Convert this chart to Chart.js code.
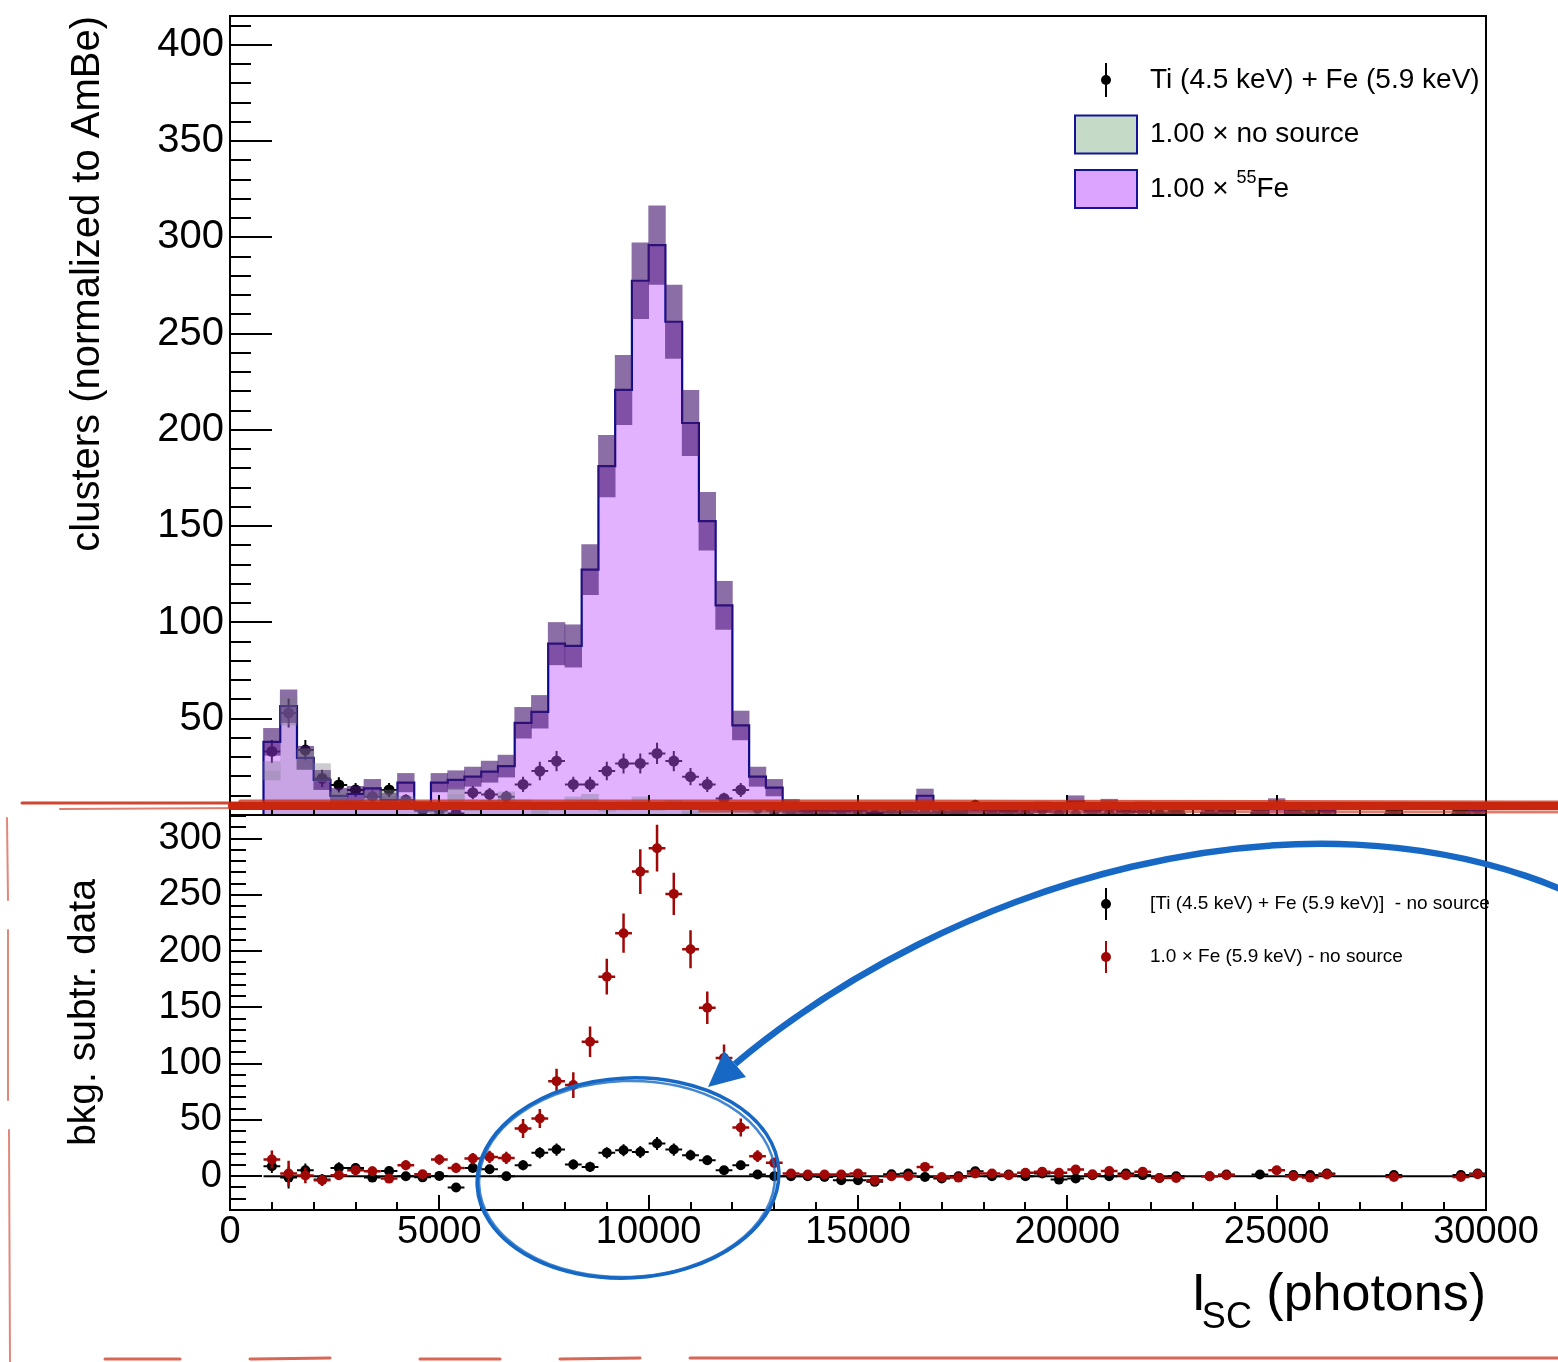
<!DOCTYPE html>
<html><head><meta charset="utf-8">
<script src="https://cdn.jsdelivr.net/npm/chart.js@4.4.1/dist/chart.umd.min.js"></script>
<style>
html,body{margin:0;padding:0;background:#fff;}
#wrap{position:relative;width:1558px;height:1362px;overflow:hidden;background:#fff;}
#wrap canvas{position:absolute;left:0;top:0;}
#ann{position:absolute;left:0;top:0;pointer-events:none;}
</style></head>
<body>
<div id="wrap">
<canvas id="bot" width="1558" height="1362"></canvas>
<canvas id="top" width="1558" height="1362"></canvas>
<svg id="ann" width="1558" height="1362" viewBox="0 0 1558 1362">
  <!-- hand drawn red separator -->
  <g stroke="rgb(200,38,14)" fill="none" stroke-linecap="round">
    <path d="M232 806 L1558 806" stroke-width="8"/>
    <path d="M240 801 L900 801 L1558 802" stroke-width="3" opacity="0.75"/>
    <path d="M700 811 L1558 812" stroke-width="3" opacity="0.6"/>
    <path d="M22 803 L240 803" stroke-width="3" opacity="0.85"/>
    <path d="M60 809 L250 808" stroke-width="2" opacity="0.6"/>
    <path d="M7 818 L8 900 M8 930 L8 1100 M9 1130 L10 1362" stroke-width="2" opacity="0.55"/>
    <path d="M105 1359 L180 1359 M250 1359 L330 1358 M420 1359 L500 1359 M560 1359 L640 1358 M690 1358 L1558 1358" stroke-width="3" opacity="0.7"/>
  </g>
  <!-- blue ellipse -->
  <g fill="none" stroke="rgb(22,104,196)">
    <ellipse cx="628" cy="1178" rx="151" ry="100" transform="rotate(-3 628 1178)" stroke-width="3.5"/>
    <ellipse cx="627" cy="1179" rx="148" ry="98" transform="rotate(-2 628 1178)" stroke-width="2.5" opacity="0.8"/>
  </g>
  <!-- blue arrow -->
  <path d="M1570 893 C1300 775 949 884 735 1064" fill="none" stroke="rgb(22,104,196)" stroke-width="6.5"/>
  <polygon points="708,1087 724,1051 746,1077" fill="rgb(22,104,196)"/>
</svg>
</div>
<script>
// ---------------- data ----------------
const BIN_START = 800;      // first bin low edge (photons)
const BIN_WIDTH = 400;      // bin width (photons)

// 1.00 x 55Fe histogram (top panel)
const fe55 = [38,56.5,29.7,18.2,9.9,10.9,13.8,7.8,16.8,4.5,16.8,18.2,19.9,22.5,25.4,47.9,53.6,89,87.8,127.4,
  181.2,220.8,277.5,296,256.2,203.6,152.6,108.9,46.5,19.9,14.2,4.3,2,2.2,2,2.5,1,1.5,1.5,10,
  1.5,1,3,2.5,1.5,3,4,3.5,7,2.5,5.2,1.5,4,0.5,0.5,0,1,1.5,0,1,5.5,1,0.5,2,0,0,0,0.5,0,0,0,0.5,2.5];
const fe55Err = [7,8.5,6,5,4,4,4.7,3.5,4.8,2.5,4.8,4.8,5,5.5,5.7,8,8.5,11,11,13,
  16,18,19.7,20.4,19,17,15,12.5,7.5,5,4.3,3.8,2,2,2,2.2,1.5,1.7,1.7,3.5,
  1.7,1.5,2.4,2.2,1.7,2.4,2.8,2.6,3,2.2,3,1.7,2.8,1,1,0,1.5,1.7,0,1.5,3,1.5,1,2,0,0,0,1,0,0,0,1,2.2];

// 1.00 x no source histogram (top panel)
const noSource = [23,54,29,22,9,5.6,9.4,9.9,7,3,2,10.8,4.2,5.3,9,5.5,2.3,4.5,6.8,8,
  4,4.8,6.8,4.5,5.3,2,3,3,3.2,2,2.3,2,0.5,0.7,0.5,0.5,4.6,1.5,1.5,1.7,
  2.1,2.2,0.6,0.5,0.6,0.5,0.5,0.5,1.1,0.7,0.5,0.6,0.5,2,2,0,1,0.6,0,1,0.2,1,1.7,0.5,0,0,0,1.1,0,0,0,1.1,0.7];
const noSourceErr = [4.8,7.3,5.4,4.7,3,2.4,3,3.1,2.6,1.7,1.4,3.3,2,2.3,3,2.3,1.5,2.1,2.6,2.8,
  2,2.2,2.6,2.1,2.3,1.4,1.7,1.7,1.8,1.4,1.5,1.4,0.7,0.8,0.7,0.7,2.1,1.2,1.2,1.3,
  1.4,1.5,0.8,0.7,0.8,0.7,0.7,0.7,1,0.8,0.7,0.8,0.7,1.4,1.4,0,1,0.8,0,1,0.4,1,1.3,0.7,0,0,0,1,0,0,0,1,0.8];

// Ti (4.5 keV) + Fe (5.9 keV) data (top panel)
const tiFe = [33,53,33.7,19,15.6,13,9.5,13,7.8,2.5,2.3,0.8,11.6,10.7,9.5,15.9,22.8,28,15.9,15.9,
  22.8,26.8,26.8,32,28,19.9,15.9,8.6,13,3.5,2.3,2,0.5,0.3,0,0,0,3.3,3.9,1.1,
  0.1,2.2,5,0.5,2.1,0.5,2.9,0,0,1.6,0.5,3,1.5,0.5,2,null,1,2.1,null,2.5,null,2,2.7,2.9,null,null,null,2.1,null,null,null,2.1,3.1];
const tiFeErr = [6,7.5,5.3,4.5,4,3.6,3.2,3.6,2.8,1.6,1.5,0.9,3.4,3.3,3.1,4,4.8,5.3,4,4,
  4.8,5.2,5.2,5.5,5.3,4.5,4,2.9,3.6,1.9,1.5,1.4,1,1,1,1,1,1.8,2,1.1,
  1,1.5,2.2,1,1.5,1,1.7,1,1,1.3,1,1.7,1.2,1,1.4,0,1,1.5,0,1.6,0,1.4,1.6,1.7,0,0,0,1.4,0,0,0,1.4,1.8];

// bottom panel: background-subtracted data
const resTiFe = [8.9,-1.2,5.3,-3,7.4,7.4,-1.2,4.7,0,-1,0.3,-10,7.4,6.2,0,9.8,20.8,23.7,10.4,8.3,
  20.8,23.1,21.6,29.1,23.7,18.7,14.2,5.3,9.8,1.5,0,0,0,-0.6,-3.6,-3.6,-5,1.8,2.4,-0.6,
  -2,0,4.4,0,1.5,0,2.4,-3,-2,0.9,0,2.4,1,-1.5,0,null,0,1.5,null,1.5,null,1,1,2.4,null,null,null,1,null,null,null,1,2.4];
const resTiFeErr = [6,9.6,6,5,5,4,4,4.5,3.5,2.5,2.5,3,4,4,4,4.5,5,5.5,4.5,4.5,
  5,5.3,5.3,5.7,5.4,4.8,4.3,3.3,4,2.3,2.2,1.8,1.8,1.8,1.8,1.8,1.8,1.8,1.8,1.8,
  1.8,1.8,1.8,1.8,1.8,1.8,1.8,1.8,1.8,1.8,1.8,1.8,1.8,1.8,1.8,0,1.8,1.8,0,1.8,0,1.8,1.8,1.8,0,0,0,1.8,0,0,0,1.8,1.8];
const resFe = [14.8,2.4,0.7,-3.6,0.9,5.3,4.4,-2.1,9.8,1.8,14.8,7.4,15.7,17.2,16.3,42.4,51.3,84.5,81,119.5,
  177.3,216,270.7,291.5,250.9,201.7,149.7,105,43.3,17.8,11.9,2.4,1.5,1.5,1.5,2.4,-3.6,0,0,8.3,
  -0.6,-1.2,2.4,2.4,0.9,3,3.9,3,5.9,1.8,4.7,0.9,3.9,-1.5,-1.5,null,0,0.9,null,null,5.3,0,-1.2,1.5,null,null,null,-0.6,null,null,null,-0.6,1.8];
const resFeErr = [8,11.4,7,5,4,4,4.2,4,4.5,2.5,4.5,4.5,5,5.5,5.5,8.5,8.5,11,11.5,13.6,
  15.9,17.5,19.9,20.8,18.8,16.8,14.4,12,8,5.2,4.5,2.5,2,2,2,2,2.5,1.8,1.8,3.5,
  1.8,1.8,2,2,1.8,2,2.2,2,3,1.8,3,1.8,2.8,1.8,1.8,0,1.8,1.8,0,0,3.2,1.8,1.8,1.8,0,0,0,1.8,0,0,0,1.8,1.8];

// tick labels
const xTicks = [0,5000,10000,15000,20000,25000,30000];
const topYTicks = [50,100,150,200,250,300,350,400];
const botYTicks = [0,50,100,150,200,250,300];

// texts
const topYTitle = 'clusters (normalized to AmBe)';
const botYTitle = 'bkg. subtr. data';
const topLegend = [
  {kind:'marker', color:'#000', parts:[['Ti (4.5 keV) + Fe (5.9 keV)', false]]},
  {kind:'box', fill:'rgb(198,218,200)', parts:[['1.00 \u00d7 no source', false]]},
  {kind:'box', fill:'rgb(221,164,255)', parts:[['1.00 \u00d7 ', false], ['55', true], ['Fe', false]]}
];
const botLegend = [
  {kind:'marker', color:'#000', parts:[['[Ti (4.5 keV) + Fe (5.9 keV)]  - no source', false]]},
  {kind:'marker', color:'rgb(160,8,8)', parts:[['1.0 \u00d7 Fe (5.9 keV) - no source', false]]}
];

// ---------------- helpers ----------------
const FONT = '"Liberation Sans", Arial, Helvetica, sans-serif';
Chart.defaults.font.family = FONT;
Chart.defaults.color = '#000';
const nBins = fe55.length;
const centers = fe55.map((_, i) => BIN_START + BIN_WIDTH * (i + 0.5));
const lastEdge = BIN_START + BIN_WIDTH * nBins;

function stepData(vals) {
  const d = [{x: BIN_START, y: 0}];
  vals.forEach((v, i) => d.push({x: BIN_START + BIN_WIDTH * i, y: v}));
  d.push({x: lastEdge, y: vals[vals.length - 1]});
  d.push({x: lastEdge, y: 0});
  return d;
}
function bandData(vals, errs) {
  const d = [];
  vals.forEach((v, i) => { if (errs[i] > 0) d.push({x: centers[i], y: [v - errs[i], v + errs[i]]}); });
  return d;
}
function pointData(vals, errs) {
  const d = [];
  vals.forEach((v, i) => { if (v !== null) d.push({x: centers[i], y: v, e: errs[i]}); });
  return d;
}
const plainLabel = (v) => String(v);

const errorBarPlugin = {
  id: 'errbars',
  beforeDatasetDraw(chart, args) {
    const ds = chart.data.datasets[args.index];
    if (!ds.errorBars) return;
    const xs = chart.scales.x, ys = chart.scales.y, ctx = chart.ctx, a = chart.chartArea;
    ctx.save();
    ctx.beginPath(); ctx.rect(a.left, a.top, a.right - a.left, a.bottom - a.top); ctx.clip();
    ctx.strokeStyle = ds.errorBars.color; ctx.lineWidth = ds.errorBars.width;
    ctx.beginPath();
    ds.data.forEach(p => {
      const px = xs.getPixelForValue(p.x), py = ys.getPixelForValue(p.y);
      ctx.moveTo(xs.getPixelForValue(p.x - BIN_WIDTH / 2), py);
      ctx.lineTo(xs.getPixelForValue(p.x + BIN_WIDTH / 2), py);
      if (p.e > 0) {
        ctx.moveTo(px, ys.getPixelForValue(p.y - p.e));
        ctx.lineTo(px, ys.getPixelForValue(p.y + p.e));
      }
    });
    ctx.stroke();
    ctx.restore();
  }
};

const rootAxesPlugin = {
  id: 'rootAxes',
  afterDatasetsDraw(chart, args, o) {
    const ctx = chart.ctx, a = chart.chartArea, xs = chart.scales.x, ys = chart.scales.y;
    ctx.save();
    ctx.strokeStyle = '#000'; ctx.lineWidth = 2;
    ctx.beginPath();
    for (let v = Math.ceil(ys.min / o.yMinor) * o.yMinor; v <= ys.max + 1e-9; v += o.yMinor) {
      const py = Math.round(ys.getPixelForValue(v));
      const major = Math.abs(v % o.yMajor) < 1e-6;
      ctx.moveTo(a.left, py); ctx.lineTo(a.left + (major ? o.yMajLen : o.yMinLen), py);
    }
    for (let v = Math.ceil(xs.min / o.xMinor) * o.xMinor; v <= xs.max + 1e-9; v += o.xMinor) {
      const px = Math.round(xs.getPixelForValue(v));
      const major = Math.abs(v % o.xMajor) < 1e-6;
      ctx.moveTo(px, a.bottom); ctx.lineTo(px, a.bottom - (major ? o.xMajLen : o.xMinLen));
    }
    ctx.stroke();
    ctx.strokeRect(a.left, a.top, a.right - a.left, a.bottom - a.top);
    ctx.restore();
  }
};

const legendPlugin = {
  id: 'rootLegend',
  afterDraw(chart, args, o) {
    if (!o.items) return;
    const ctx = chart.ctx;
    ctx.save();
    o.items.forEach((it, i) => {
      const y = o.y0 + i * o.dy;
      if (it.kind === 'marker') {
        ctx.strokeStyle = it.color; ctx.fillStyle = it.color; ctx.lineWidth = 2;
        ctx.beginPath(); ctx.moveTo(o.markX, y - o.barH); ctx.lineTo(o.markX, y + o.barH); ctx.stroke();
        ctx.beginPath(); ctx.arc(o.markX, y, o.r, 0, Math.PI * 2); ctx.fill();
      } else {
        ctx.fillStyle = it.fill; ctx.fillRect(o.boxX, y - o.boxH / 2, o.boxW, o.boxH);
        ctx.strokeStyle = 'rgb(20,20,150)'; ctx.lineWidth = 2;
        ctx.strokeRect(o.boxX, y - o.boxH / 2, o.boxW, o.boxH);
      }
      let x = o.textX;
      ctx.fillStyle = '#000'; ctx.textBaseline = 'middle'; ctx.textAlign = 'left';
      it.parts.forEach(([t, sup]) => {
        if (sup) {
          ctx.font = Math.round(o.size * 0.64) + 'px ' + FONT;
          ctx.fillText(t, x, y - o.size * 0.38);
        } else {
          ctx.font = o.size + 'px ' + FONT;
          ctx.fillText(t, x, y);
        }
        x += ctx.measureText(t).width;
      });
    });
    ctx.restore();
  }
};

const xTitlePlugin = {
  id: 'xTitle',
  afterDraw(chart, args, o) {
    if (!o.show) return;
    const ctx = chart.ctx, a = chart.chartArea;
    ctx.save();
    ctx.fillStyle = '#000'; ctx.textBaseline = 'alphabetic'; ctx.textAlign = 'left';
    ctx.font = '52px ' + FONT; const w1 = ctx.measureText(' (photons)').width;
    ctx.font = '36px ' + FONT; const w2 = ctx.measureText('SC').width;
    ctx.font = '52px ' + FONT; const w3 = ctx.measureText('I').width;
    const xe = a.right;
    ctx.fillText(' (photons)', xe - w1, o.baseline);
    ctx.fillText('I', xe - w1 - w2 - w3 + 4, o.baseline);
    ctx.font = '36px ' + FONT; ctx.fillText('SC', xe - w1 - w2, o.baseline + 18);
    ctx.restore();
  }
};

function fixY(width) {
  return (s) => { s.width = width; s.paddingTop = 0; s.paddingBottom = 0; };
}
function fixX(height) {
  return (s) => { s.height = height; s.paddingLeft = 0; s.paddingRight = 0; };
}
function setTicks(list) {
  return (s) => { s.ticks = list.map(v => ({value: v})); };
}

// ---------------- top chart ----------------
new Chart(document.getElementById('top'), {
  type: 'scatter',
  data: {
    datasets: [
      {type: 'line', label: 'noSource', data: stepData(noSource), stepped: true, showLine: true,
        fill: 'origin', backgroundColor: 'rgb(210,229,207)', borderColor: 'rgba(0,0,0,0)', borderWidth: 0,
        pointRadius: 0, order: 6},
      {type: 'scatter', label: 'tiFe', data: pointData(tiFe, tiFeErr), pointRadius: 5.5, pointHoverRadius: 5.5,
        backgroundColor: '#000', borderWidth: 0, order: 5, errorBars: {color: '#000', width: 2}},
      {type: 'line', label: 'fe55', data: stepData(fe55), stepped: true, showLine: true,
        fill: 'origin', backgroundColor: 'rgba(191,84,255,0.45)', borderColor: 'rgb(12,10,140)', borderWidth: 2.2,
        pointRadius: 0, order: 4},
      {type: 'bar', label: 'fe55Err', data: bandData(fe55, fe55Err), backgroundColor: 'rgba(67,21,110,0.62)',
        grouped: false, barPercentage: 1, categoryPercentage: 1, borderWidth: 0, order: 3},
      {type: 'bar', label: 'noSourceErr', data: bandData(noSource, noSourceErr), backgroundColor: 'rgba(125,125,140,0.4)',
        grouped: false, barPercentage: 1, categoryPercentage: 1, borderWidth: 0, order: 2}
    ]
  },
  options: {
    responsive: false, animation: false, events: [],
    layout: {padding: {left: 0, right: 72, top: 16, bottom: 547}},
    scales: {
      x: {type: 'linear', min: 0, max: 30000, offset: false, grid: {display: false, drawTicks: false, offset: false},
        border: {display: false}, ticks: {display: false}, afterFit: fixX(0)},
      y: {type: 'linear', min: 0, max: 415, grid: {display: false, drawTicks: false}, border: {display: false},
        afterBuildTicks: setTicks(topYTicks), afterFit: fixY(230),
        ticks: {font: {size: 40}, padding: 6, color: '#000', callback: plainLabel},
        title: {display: true, text: topYTitle, align: 'end', font: {size: 40}, color: '#000', padding: {top: 64, bottom: 0}}}
    },
    plugins: {
      legend: {display: false}, tooltip: {enabled: false},
      rootAxes: {yMinor: 10, yMajor: 50, yMajLen: 42, yMinLen: 21, xMinor: 1000, xMajor: 5000, xMajLen: 20, xMinLen: 10},
      rootLegend: {items: topLegend, y0: 80, dy: 54.5, markX: 1106, r: 5, barH: 17, boxX: 1075, boxW: 62, boxH: 38, textX: 1150, size: 28},
      xTitle: {show: false}
    }
  },
  plugins: [errorBarPlugin, rootAxesPlugin, legendPlugin, xTitlePlugin]
});

// ---------------- bottom chart ----------------
new Chart(document.getElementById('bot'), {
  type: 'scatter',
  data: {
    datasets: [
      {type: 'line', label: 'zero', data: [{x: BIN_START, y: 0}, {x: lastEdge, y: 0}], showLine: true,
        borderColor: '#000', borderWidth: 2, pointRadius: 0, fill: false, order: 3},
      {type: 'scatter', label: 'resTiFe', data: pointData(resTiFe, resTiFeErr), pointRadius: 5, pointHoverRadius: 5,
        backgroundColor: '#000', borderWidth: 0, order: 2, errorBars: {color: '#000', width: 2}},
      {type: 'scatter', label: 'resFe', data: pointData(resFe, resFeErr), pointRadius: 5, pointHoverRadius: 5,
        backgroundColor: 'rgb(160,8,8)', borderWidth: 0, order: 1, errorBars: {color: 'rgb(160,8,8)', width: 2.5}}
    ]
  },
  options: {
    responsive: false, animation: false, events: [],
    layout: {padding: {left: 0, right: 72, top: 815, bottom: 0}},
    scales: {
      x: {type: 'linear', min: 0, max: 30000, offset: false, grid: {display: false, drawTicks: false, offset: false},
        border: {display: false}, afterBuildTicks: setTicks(xTicks), afterFit: fixX(152),
        ticks: {font: {size: 38, lineHeight: 1}, padding: 4, maxRotation: 0, autoSkip: false, color: '#000', callback: plainLabel}},
      y: {type: 'linear', min: -30, max: 321, grid: {display: false, drawTicks: false}, border: {display: false},
        afterBuildTicks: setTicks(botYTicks), afterFit: fixY(230),
        ticks: {font: {size: 38}, padding: 8, color: '#000', callback: plainLabel},
        title: {display: true, text: botYTitle, align: 'center', font: {size: 39}, color: '#000', padding: {top: 61, bottom: 0}}}
    },
    plugins: {
      legend: {display: false}, tooltip: {enabled: false},
      rootAxes: {yMinor: 10, yMajor: 50, yMajLen: 32, yMinLen: 16, xMinor: 1000, xMajor: 5000, xMajLen: 15, xMinLen: 8},
      rootLegend: {items: botLegend, y0: 904, dy: 53, markX: 1106, r: 5, barH: 16, boxX: 0, boxW: 0, boxH: 0, textX: 1150, size: 19},
      xTitle: {show: true, baseline: 1310}
    }
  },
  plugins: [errorBarPlugin, rootAxesPlugin, legendPlugin, xTitlePlugin]
});
</script>
</body></html>
